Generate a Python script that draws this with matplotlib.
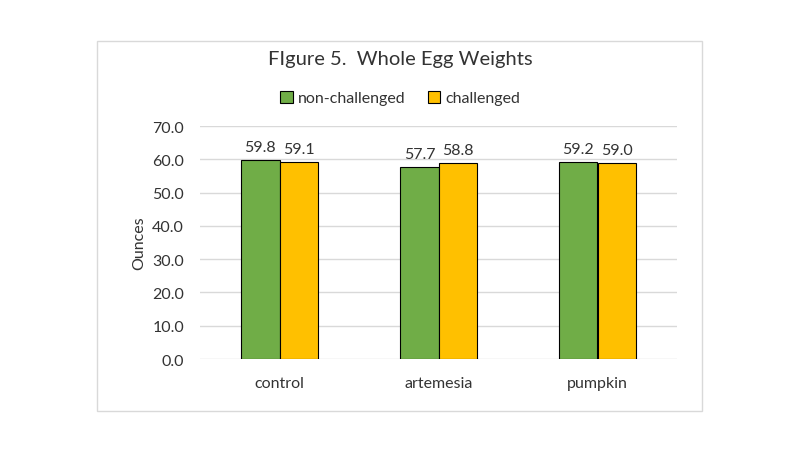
import matplotlib.pyplot as plt
import matplotlib.patches as mpatches
import numpy as np

plt.rcParams['font.family'] = ['Lato', 'DejaVu Sans']

# data
categories = ["control", "artemesia", "pumpkin"]
series_names = ["non-challenged", "challenged"]
non_challenged = [59.8, 57.7, 59.2]
challenged = [59.1, 58.8, 59.0]
y_ticks = [0, 10, 20, 30, 40, 50, 60, 70]

GREEN = "#70AD47"
GOLD = "#FFC000"
TXT = "#333333"

fig = plt.figure(figsize=(8, 4.6), dpi=100)
fig.patch.set_facecolor("white")

# chart frame
frame = mpatches.Rectangle((97 / 800, 1 - 412 / 460), 605 / 800, 370 / 460,
                           transform=fig.transFigure, fill=False,
                           edgecolor="#D9D9D9", linewidth=1)
fig.patches.append(frame)

ax = fig.add_axes([200 / 800, 1 - 360 / 460, 477 / 800, 233 / 460])

x = np.arange(len(categories))
w = 0.24
b1 = ax.bar(x - w / 2, non_challenged, w, color=GREEN, edgecolor="black",
            linewidth=0.8, label=series_names[0], zorder=3)
b2 = ax.bar(x + w / 2, challenged, w, color=GOLD, edgecolor="black",
            linewidth=0.8, label=series_names[1], zorder=3)

for bars in (b1, b2):
    for r in bars:
        ax.text(r.get_x() + r.get_width() / 2, r.get_height() + 1.8,
                f"{r.get_height():.1f}", ha="center", va="bottom",
                fontsize=11.5, color=TXT)

ax.set_xlim(-0.5, len(categories) - 0.5)
ax.set_ylim(0, 70)
ax.set_yticks(y_ticks)
ax.set_yticklabels([f"{v:.1f}" for v in y_ticks])
ax.set_xticks(x)
ax.set_xticklabels(categories)
ax.tick_params(axis="both", length=0, labelsize=11.5, colors=TXT)
ax.tick_params(axis="x", pad=12)
ax.tick_params(axis="y", pad=11.5)
ax.grid(True, axis="y", color="#D9D9D9", linewidth=1, zorder=0)
for s in ax.spines.values():
    s.set_visible(False)

ax.set_ylabel("Ounces", fontsize=11.5, color=TXT, labelpad=4)

fig.text(0.5, 1 - 60 / 460, "FIgure 5.  Whole Egg Weights", ha="center",
         va="center", fontsize=14.5, color=TXT)
fig.legend(handles=[b1, b2], loc="center", bbox_to_anchor=(0.5, 1 - 99 / 460),
           ncol=2, frameon=False, fontsize=11.5, handlelength=0.8,
           handleheight=0.8, handletextpad=0.3, columnspacing=1.4,
           labelcolor=TXT)

fig.savefig("out.png", dpi=100)
plt.close(fig)
